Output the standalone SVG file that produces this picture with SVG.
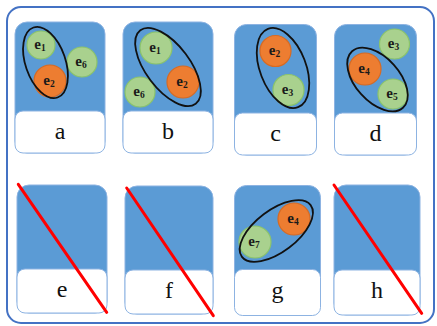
<svg xmlns="http://www.w3.org/2000/svg" width="437" height="326" viewBox="0 0 437 326">
<defs>
<style>
.frame{fill:#fff;stroke:#4472C4;stroke-width:2}
.card{fill:#5B9BD5;stroke:#8DB3E2;stroke-width:1}
.lab{fill:#fff;stroke:#8DB3E2;stroke-width:1}
.lt{font-family:"Liberation Serif","Times New Roman",serif;font-size:24px;fill:#111;text-anchor:middle}
.g{fill:#A9D18E;stroke:#8CC46A;stroke-width:1.2}
.o{fill:#ED7D31;stroke:#D86A22;stroke-width:1.2}
.et{font-family:"Liberation Serif","Times New Roman",serif;font-size:15px;font-weight:bold;fill:#1a1a1a;text-anchor:middle}
.sub{font-size:9.5px}
.grp{fill:none;stroke:#111;stroke-width:1.8}
.x{stroke:#FF0000;stroke-width:3;stroke-linecap:round}
</style>
</defs>
<rect class="frame" x="7" y="7" width="427" height="316" rx="14"/>

<g id="card-a">
<rect class="card" x="15" y="22" width="90" height="131" rx="12"/>
<rect class="lab" x="15" y="111" width="90" height="42" rx="8"/>
<text class="lt" x="60" y="139">a</text>
<circle class="g" cx="41" cy="45" r="14"/><text class="et" x="40" y="49">e<tspan class="sub" dy="2">1</tspan></text>
<circle class="o" cx="50" cy="81" r="16"/><text class="et" x="49" y="85">e<tspan class="sub" dy="2">2</tspan></text>
<circle class="g" cx="82" cy="62" r="15"/><text class="et" x="81" y="66">e<tspan class="sub" dy="2">6</tspan></text>
<ellipse class="grp" cx="45.5" cy="62.5" rx="20" ry="37" transform="rotate(-19 45.5 62.5)"/>
</g>

<g id="card-b">
<rect class="card" x="123" y="22" width="90" height="131" rx="12"/>
<rect class="lab" x="123" y="111" width="90" height="42" rx="8"/>
<text class="lt" x="168" y="139">b</text>
<circle class="g" cx="156" cy="48" r="16"/><text class="et" x="155" y="52">e<tspan class="sub" dy="2">1</tspan></text>
<circle class="o" cx="183" cy="82" r="16"/><text class="et" x="182" y="86">e<tspan class="sub" dy="2">2</tspan></text>
<circle class="g" cx="140" cy="92" r="15"/><text class="et" x="139" y="96">e<tspan class="sub" dy="2">6</tspan></text>
<ellipse class="grp" cx="168" cy="67" rx="22" ry="46" transform="rotate(-37 168 67)"/>
</g>

<g id="card-c">
<rect class="card" x="234.5" y="24.5" width="82" height="130.5" rx="12"/>
<rect class="lab" x="234.5" y="113" width="82" height="42" rx="8"/>
<text class="lt" x="275.5" y="141">c</text>
<circle class="o" cx="275.5" cy="51" r="15.5"/><text class="et" x="274.5" y="55">e<tspan class="sub" dy="2">2</tspan></text>
<circle class="g" cx="288.5" cy="90" r="15.5"/><text class="et" x="287.5" y="94">e<tspan class="sub" dy="2">3</tspan></text>
<ellipse class="grp" cx="283" cy="68" rx="23" ry="42" transform="rotate(-21 283 68)"/>
</g>

<g id="card-d">
<rect class="card" x="334.5" y="24.5" width="82" height="130.5" rx="12"/>
<rect class="lab" x="334.5" y="113" width="82" height="42" rx="8"/>
<text class="lt" x="375.5" y="141">d</text>
<circle class="g" cx="394.5" cy="44" r="15"/><text class="et" x="393.5" y="48">e<tspan class="sub" dy="2">3</tspan></text>
<circle class="o" cx="365" cy="69" r="16"/><text class="et" x="364" y="73">e<tspan class="sub" dy="2">4</tspan></text>
<circle class="g" cx="393" cy="94" r="15"/><text class="et" x="392" y="98">e<tspan class="sub" dy="2">5</tspan></text>
<ellipse class="grp" cx="377.5" cy="79.5" rx="22" ry="38" transform="rotate(-42 377.5 79.5)"/>
</g>

<g id="card-e">
<rect class="card" x="17" y="185" width="90" height="128" rx="12"/>
<rect class="lab" x="17" y="269" width="90" height="44" rx="8"/>
<text class="lt" x="62" y="297">e</text>
</g>

<g id="card-f">
<rect class="card" x="125" y="186" width="88" height="128" rx="12"/>
<rect class="lab" x="125" y="270" width="88" height="44" rx="8"/>
<text class="lt" x="169" y="298">f</text>
</g>

<g id="card-g">
<rect class="card" x="234.5" y="185.5" width="86" height="130" rx="12"/>
<rect class="lab" x="234.5" y="269.5" width="86" height="46" rx="8"/>
<text class="lt" x="277.5" y="298">g</text>
<circle class="o" cx="294" cy="219" r="16"/><text class="et" x="293" y="223">e<tspan class="sub" dy="2">4</tspan></text>
<circle class="g" cx="255" cy="242" r="16"/><text class="et" x="254" y="246">e<tspan class="sub" dy="2">7</tspan></text>
<ellipse class="grp" cx="276.3" cy="231" rx="43" ry="21" transform="rotate(-37 276.3 231)"/>
</g>

<g id="card-h">
<rect class="card" x="334" y="185" width="86" height="130" rx="12"/>
<rect class="lab" x="334" y="270" width="86" height="45" rx="8"/>
<text class="lt" x="377" y="298">h</text>
</g>

<g id="connectors">
<line class="x" x1="18.3" y1="184.3" x2="106.7" y2="312.3"/>
<line class="x" x1="126.7" y1="188" x2="213.3" y2="315.7"/>
<line class="x" x1="334" y1="185" x2="421.7" y2="313.3"/>
</g>
</svg>
